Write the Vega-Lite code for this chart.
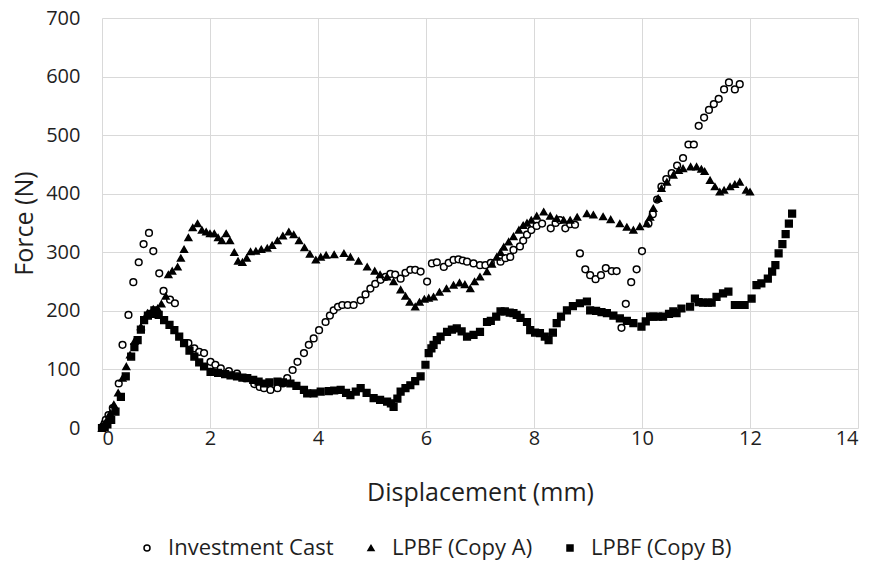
{
  "$schema": "https://vega.github.io/schema/vega-lite/v6.json",
  "width": 756,
  "height": 410,
  "autosize": {"type": "none"},
  "padding": {"left": 102, "top": 18, "right": 12, "bottom": 137},
  "background": "white",
  "config": {
    "view": {"stroke": null},
    "font": "Open Sans",
    "axis": {"gridColor": "#d9d9d9", "gridWidth": 1, "domain": false, "ticks": false, "labelColor": "#1f1f1f", "titleColor": "#1f1f1f", "labelFont": "Open Sans", "titleFont": "Open Sans", "titleFontWeight": "normal"},
    "legend": {"title": null, "orient": "none", "direction": "horizontal", "legendX": 34, "legendY": 519, "labelFontSize": 22, "labelColor": "#1f1f1f", "labelFont": "Open Sans", "labelLimit": 400, "symbolSize": 36, "symbolStrokeWidth": 1.5, "columnPadding": 26, "labelOffset": 10}
  },
  "data": {"values": [
    {"series":"Investment Cast","x":0,"y":0},{"series":"Investment Cast","x":0.02,"y":3},{"series":"Investment Cast","x":0.05,"y":8},{"series":"Investment Cast","x":0.07,"y":14},{"series":"Investment Cast","x":0.12,"y":22},{"series":"Investment Cast","x":0.2,"y":34},{"series":"Investment Cast","x":0.31,"y":76},{"series":"Investment Cast","x":0.38,"y":142},{"series":"Investment Cast","x":0.49,"y":193},{"series":"Investment Cast","x":0.58,"y":249},{"series":"Investment Cast","x":0.68,"y":283},{"series":"Investment Cast","x":0.77,"y":314},{"series":"Investment Cast","x":0.87,"y":333},{"series":"Investment Cast","x":0.95,"y":302},{"series":"Investment Cast","x":1.06,"y":264},{"series":"Investment Cast","x":1.14,"y":234},{"series":"Investment Cast","x":1.26,"y":219},{"series":"Investment Cast","x":1.35,"y":213},{"series":"Investment Cast","x":1.6,"y":145},{"series":"Investment Cast","x":1.71,"y":136},{"series":"Investment Cast","x":1.8,"y":130},{"series":"Investment Cast","x":1.89,"y":128},{"series":"Investment Cast","x":2.01,"y":113},{"series":"Investment Cast","x":2.1,"y":108},{"series":"Investment Cast","x":2.2,"y":102},{"series":"Investment Cast","x":2.35,"y":97},{"series":"Investment Cast","x":2.5,"y":93},{"series":"Investment Cast","x":2.65,"y":85},{"series":"Investment Cast","x":2.82,"y":75},{"series":"Investment Cast","x":2.92,"y":70},{"series":"Investment Cast","x":3.0,"y":68},{"series":"Investment Cast","x":3.12,"y":65},{"series":"Investment Cast","x":3.25,"y":68},{"series":"Investment Cast","x":3.35,"y":76},{"series":"Investment Cast","x":3.43,"y":85},{"series":"Investment Cast","x":3.53,"y":99},{"series":"Investment Cast","x":3.62,"y":113},{"series":"Investment Cast","x":3.74,"y":128},{"series":"Investment Cast","x":3.83,"y":142},{"series":"Investment Cast","x":3.92,"y":153},{"series":"Investment Cast","x":4.02,"y":167},{"series":"Investment Cast","x":4.14,"y":181},{"series":"Investment Cast","x":4.22,"y":192},{"series":"Investment Cast","x":4.29,"y":201},{"series":"Investment Cast","x":4.37,"y":207},{"series":"Investment Cast","x":4.45,"y":210},{"series":"Investment Cast","x":4.55,"y":210},{"series":"Investment Cast","x":4.66,"y":210},{"series":"Investment Cast","x":4.79,"y":218},{"series":"Investment Cast","x":4.88,"y":228},{"series":"Investment Cast","x":4.97,"y":238},{"series":"Investment Cast","x":5.06,"y":246},{"series":"Investment Cast","x":5.16,"y":253},{"series":"Investment Cast","x":5.25,"y":258},{"series":"Investment Cast","x":5.34,"y":263},{"series":"Investment Cast","x":5.43,"y":262},{"series":"Investment Cast","x":5.53,"y":255},{"series":"Investment Cast","x":5.62,"y":265},{"series":"Investment Cast","x":5.71,"y":270},{"series":"Investment Cast","x":5.8,"y":270},{"series":"Investment Cast","x":5.9,"y":267},{"series":"Investment Cast","x":6.02,"y":250},{"series":"Investment Cast","x":6.11,"y":281},{"series":"Investment Cast","x":6.2,"y":283},{"series":"Investment Cast","x":6.33,"y":275},{"series":"Investment Cast","x":6.42,"y":282},{"series":"Investment Cast","x":6.51,"y":287},{"series":"Investment Cast","x":6.6,"y":288},{"series":"Investment Cast","x":6.68,"y":286},{"series":"Investment Cast","x":6.76,"y":284},{"series":"Investment Cast","x":6.88,"y":281},{"series":"Investment Cast","x":7.0,"y":278},{"series":"Investment Cast","x":7.1,"y":278},{"series":"Investment Cast","x":7.2,"y":282},{"series":"Investment Cast","x":7.38,"y":284},{"series":"Investment Cast","x":7.47,"y":290},{"series":"Investment Cast","x":7.56,"y":292},{"series":"Investment Cast","x":7.62,"y":304},{"series":"Investment Cast","x":7.74,"y":310},{"series":"Investment Cast","x":7.8,"y":320},{"series":"Investment Cast","x":7.87,"y":330},{"series":"Investment Cast","x":7.95,"y":338},{"series":"Investment Cast","x":8.05,"y":345},{"series":"Investment Cast","x":8.15,"y":349},{"series":"Investment Cast","x":8.31,"y":341},{"series":"Investment Cast","x":8.4,"y":350},{"series":"Investment Cast","x":8.48,"y":355},{"series":"Investment Cast","x":8.58,"y":341},{"series":"Investment Cast","x":8.67,"y":348},{"series":"Investment Cast","x":8.76,"y":347},{"series":"Investment Cast","x":8.85,"y":298},{"series":"Investment Cast","x":8.95,"y":271},{"series":"Investment Cast","x":9.04,"y":261},{"series":"Investment Cast","x":9.14,"y":254},{"series":"Investment Cast","x":9.24,"y":261},{"series":"Investment Cast","x":9.33,"y":273},{"series":"Investment Cast","x":9.44,"y":268},{"series":"Investment Cast","x":9.53,"y":268},{"series":"Investment Cast","x":9.62,"y":171},{"series":"Investment Cast","x":9.7,"y":212},{"series":"Investment Cast","x":9.8,"y":249},{"series":"Investment Cast","x":9.9,"y":271},{"series":"Investment Cast","x":10.0,"y":302},{"series":"Investment Cast","x":10.12,"y":349},{"series":"Investment Cast","x":10.2,"y":365},{"series":"Investment Cast","x":10.28,"y":390},{"series":"Investment Cast","x":10.36,"y":412},{"series":"Investment Cast","x":10.45,"y":425},{"series":"Investment Cast","x":10.55,"y":435},{"series":"Investment Cast","x":10.65,"y":448},{"series":"Investment Cast","x":10.76,"y":461},{"series":"Investment Cast","x":10.86,"y":484},{"series":"Investment Cast","x":10.96,"y":484},{"series":"Investment Cast","x":11.05,"y":516},{"series":"Investment Cast","x":11.15,"y":530},{"series":"Investment Cast","x":11.24,"y":543},{"series":"Investment Cast","x":11.33,"y":553},{"series":"Investment Cast","x":11.42,"y":562},{"series":"Investment Cast","x":11.52,"y":578},{"series":"Investment Cast","x":11.61,"y":590},{"series":"Investment Cast","x":11.72,"y":578},{"series":"Investment Cast","x":11.81,"y":587},
    {"series":"LPBF (Copy A)","x":0,"y":0},{"series":"LPBF (Copy A)","x":0.03,"y":5},{"series":"LPBF (Copy A)","x":0.08,"y":12},{"series":"LPBF (Copy A)","x":0.15,"y":25},{"series":"LPBF (Copy A)","x":0.22,"y":40},{"series":"LPBF (Copy A)","x":0.3,"y":60},{"series":"LPBF (Copy A)","x":0.38,"y":85},{"series":"LPBF (Copy A)","x":0.45,"y":105},{"series":"LPBF (Copy A)","x":0.52,"y":125},{"series":"LPBF (Copy A)","x":0.6,"y":148},{"series":"LPBF (Copy A)","x":0.72,"y":173},{"series":"LPBF (Copy A)","x":0.84,"y":196},{"series":"LPBF (Copy A)","x":0.95,"y":203},{"series":"LPBF (Copy A)","x":1.03,"y":204},{"series":"LPBF (Copy A)","x":1.1,"y":212},{"series":"LPBF (Copy A)","x":1.18,"y":225},{"series":"LPBF (Copy A)","x":1.23,"y":262},{"series":"LPBF (Copy A)","x":1.3,"y":268},{"series":"LPBF (Copy A)","x":1.4,"y":275},{"series":"LPBF (Copy A)","x":1.46,"y":290},{"series":"LPBF (Copy A)","x":1.52,"y":305},{"series":"LPBF (Copy A)","x":1.6,"y":325},{"series":"LPBF (Copy A)","x":1.68,"y":342},{"series":"LPBF (Copy A)","x":1.77,"y":349},{"series":"LPBF (Copy A)","x":1.85,"y":338},{"series":"LPBF (Copy A)","x":1.93,"y":335},{"series":"LPBF (Copy A)","x":2.0,"y":332},{"series":"LPBF (Copy A)","x":2.08,"y":332},{"series":"LPBF (Copy A)","x":2.15,"y":325},{"series":"LPBF (Copy A)","x":2.22,"y":320},{"series":"LPBF (Copy A)","x":2.3,"y":332},{"series":"LPBF (Copy A)","x":2.37,"y":320},{"series":"LPBF (Copy A)","x":2.45,"y":300},{"series":"LPBF (Copy A)","x":2.52,"y":285},{"series":"LPBF (Copy A)","x":2.6,"y":283},{"series":"LPBF (Copy A)","x":2.68,"y":290},{"series":"LPBF (Copy A)","x":2.75,"y":301},{"series":"LPBF (Copy A)","x":2.85,"y":302},{"series":"LPBF (Copy A)","x":2.95,"y":305},{"series":"LPBF (Copy A)","x":3.06,"y":307},{"series":"LPBF (Copy A)","x":3.15,"y":312},{"series":"LPBF (Copy A)","x":3.25,"y":320},{"series":"LPBF (Copy A)","x":3.35,"y":328},{"series":"LPBF (Copy A)","x":3.46,"y":335},{"series":"LPBF (Copy A)","x":3.55,"y":330},{"series":"LPBF (Copy A)","x":3.65,"y":320},{"series":"LPBF (Copy A)","x":3.75,"y":308},{"series":"LPBF (Copy A)","x":3.85,"y":297},{"series":"LPBF (Copy A)","x":3.96,"y":287},{"series":"LPBF (Copy A)","x":4.05,"y":292},{"series":"LPBF (Copy A)","x":4.15,"y":295},{"series":"LPBF (Copy A)","x":4.3,"y":296},{"series":"LPBF (Copy A)","x":4.48,"y":298},{"series":"LPBF (Copy A)","x":4.6,"y":292},{"series":"LPBF (Copy A)","x":4.75,"y":285},{"series":"LPBF (Copy A)","x":4.91,"y":275},{"series":"LPBF (Copy A)","x":5.05,"y":268},{"series":"LPBF (Copy A)","x":5.15,"y":262},{"series":"LPBF (Copy A)","x":5.28,"y":258},{"series":"LPBF (Copy A)","x":5.4,"y":250},{"series":"LPBF (Copy A)","x":5.53,"y":236},{"series":"LPBF (Copy A)","x":5.62,"y":225},{"series":"LPBF (Copy A)","x":5.7,"y":215},{"series":"LPBF (Copy A)","x":5.8,"y":207},{"series":"LPBF (Copy A)","x":5.88,"y":215},{"series":"LPBF (Copy A)","x":5.97,"y":220},{"series":"LPBF (Copy A)","x":6.05,"y":222},{"series":"LPBF (Copy A)","x":6.14,"y":224},{"series":"LPBF (Copy A)","x":6.25,"y":232},{"series":"LPBF (Copy A)","x":6.38,"y":238},{"series":"LPBF (Copy A)","x":6.51,"y":244},{"series":"LPBF (Copy A)","x":6.62,"y":248},{"series":"LPBF (Copy A)","x":6.72,"y":245},{"series":"LPBF (Copy A)","x":6.82,"y":238},{"series":"LPBF (Copy A)","x":6.9,"y":250},{"series":"LPBF (Copy A)","x":7.0,"y":258},{"series":"LPBF (Copy A)","x":7.13,"y":267},{"series":"LPBF (Copy A)","x":7.22,"y":280},{"series":"LPBF (Copy A)","x":7.31,"y":292},{"series":"LPBF (Copy A)","x":7.38,"y":300},{"series":"LPBF (Copy A)","x":7.44,"y":309},{"series":"LPBF (Copy A)","x":7.53,"y":318},{"series":"LPBF (Copy A)","x":7.62,"y":327},{"series":"LPBF (Copy A)","x":7.72,"y":338},{"series":"LPBF (Copy A)","x":7.8,"y":346},{"series":"LPBF (Copy A)","x":7.87,"y":350},{"series":"LPBF (Copy A)","x":7.95,"y":355},{"series":"LPBF (Copy A)","x":8.05,"y":362},{"series":"LPBF (Copy A)","x":8.18,"y":369},{"series":"LPBF (Copy A)","x":8.3,"y":362},{"series":"LPBF (Copy A)","x":8.42,"y":358},{"series":"LPBF (Copy A)","x":8.55,"y":355},{"series":"LPBF (Copy A)","x":8.67,"y":355},{"series":"LPBF (Copy A)","x":8.8,"y":360},{"series":"LPBF (Copy A)","x":8.98,"y":366},{"series":"LPBF (Copy A)","x":9.1,"y":364},{"series":"LPBF (Copy A)","x":9.28,"y":361},{"series":"LPBF (Copy A)","x":9.42,"y":356},{"series":"LPBF (Copy A)","x":9.59,"y":349},{"series":"LPBF (Copy A)","x":9.72,"y":343},{"series":"LPBF (Copy A)","x":9.84,"y":338},{"series":"LPBF (Copy A)","x":9.96,"y":344},{"series":"LPBF (Copy A)","x":10.09,"y":349},{"series":"LPBF (Copy A)","x":10.15,"y":360},{"series":"LPBF (Copy A)","x":10.21,"y":375},{"series":"LPBF (Copy A)","x":10.3,"y":392},{"series":"LPBF (Copy A)","x":10.36,"y":409},{"series":"LPBF (Copy A)","x":10.46,"y":420},{"series":"LPBF (Copy A)","x":10.58,"y":432},{"series":"LPBF (Copy A)","x":10.68,"y":440},{"series":"LPBF (Copy A)","x":10.76,"y":443},{"series":"LPBF (Copy A)","x":10.9,"y":446},{"series":"LPBF (Copy A)","x":11.01,"y":446},{"series":"LPBF (Copy A)","x":11.1,"y":442},{"series":"LPBF (Copy A)","x":11.16,"y":438},{"series":"LPBF (Copy A)","x":11.26,"y":423},{"series":"LPBF (Copy A)","x":11.35,"y":412},{"series":"LPBF (Copy A)","x":11.44,"y":403},{"series":"LPBF (Copy A)","x":11.52,"y":406},{"series":"LPBF (Copy A)","x":11.63,"y":412},{"series":"LPBF (Copy A)","x":11.72,"y":416},{"series":"LPBF (Copy A)","x":11.81,"y":420},{"series":"LPBF (Copy A)","x":11.93,"y":406},{"series":"LPBF (Copy A)","x":12.0,"y":403},
    {"series":"LPBF (Copy B)","x":0,"y":0},{"series":"LPBF (Copy B)","x":0.05,"y":2},{"series":"LPBF (Copy B)","x":0.1,"y":6},{"series":"LPBF (Copy B)","x":0.17,"y":14},{"series":"LPBF (Copy B)","x":0.25,"y":28},{"series":"LPBF (Copy B)","x":0.35,"y":53},{"series":"LPBF (Copy B)","x":0.44,"y":88},{"series":"LPBF (Copy B)","x":0.54,"y":122},{"series":"LPBF (Copy B)","x":0.6,"y":138},{"series":"LPBF (Copy B)","x":0.66,"y":150},{"series":"LPBF (Copy B)","x":0.72,"y":168},{"series":"LPBF (Copy B)","x":0.78,"y":184},{"series":"LPBF (Copy B)","x":0.85,"y":192},{"series":"LPBF (Copy B)","x":0.91,"y":195},{"series":"LPBF (Copy B)","x":0.97,"y":201},{"series":"LPBF (Copy B)","x":1.05,"y":193},{"series":"LPBF (Copy B)","x":1.15,"y":184},{"series":"LPBF (Copy B)","x":1.25,"y":176},{"series":"LPBF (Copy B)","x":1.34,"y":167},{"series":"LPBF (Copy B)","x":1.43,"y":156},{"series":"LPBF (Copy B)","x":1.52,"y":145},{"series":"LPBF (Copy B)","x":1.62,"y":132},{"series":"LPBF (Copy B)","x":1.71,"y":122},{"series":"LPBF (Copy B)","x":1.8,"y":112},{"series":"LPBF (Copy B)","x":1.89,"y":105},{"series":"LPBF (Copy B)","x":2.01,"y":96},{"series":"LPBF (Copy B)","x":2.15,"y":94},{"series":"LPBF (Copy B)","x":2.28,"y":92},{"series":"LPBF (Copy B)","x":2.38,"y":90},{"series":"LPBF (Copy B)","x":2.5,"y":88},{"series":"LPBF (Copy B)","x":2.6,"y":86},{"series":"LPBF (Copy B)","x":2.69,"y":85},{"series":"LPBF (Copy B)","x":2.8,"y":82},{"series":"LPBF (Copy B)","x":2.9,"y":79},{"series":"LPBF (Copy B)","x":3.0,"y":76},{"series":"LPBF (Copy B)","x":3.1,"y":78},{"series":"LPBF (Copy B)","x":3.25,"y":79},{"series":"LPBF (Copy B)","x":3.35,"y":78},{"series":"LPBF (Copy B)","x":3.49,"y":76},{"series":"LPBF (Copy B)","x":3.6,"y":72},{"series":"LPBF (Copy B)","x":3.74,"y":65},{"series":"LPBF (Copy B)","x":3.8,"y":59},{"series":"LPBF (Copy B)","x":3.92,"y":59},{"series":"LPBF (Copy B)","x":4.05,"y":62},{"series":"LPBF (Copy B)","x":4.2,"y":63},{"series":"LPBF (Copy B)","x":4.3,"y":64},{"series":"LPBF (Copy B)","x":4.42,"y":65},{"series":"LPBF (Copy B)","x":4.52,"y":60},{"series":"LPBF (Copy B)","x":4.6,"y":56},{"series":"LPBF (Copy B)","x":4.7,"y":62},{"series":"LPBF (Copy B)","x":4.79,"y":68},{"series":"LPBF (Copy B)","x":4.9,"y":60},{"series":"LPBF (Copy B)","x":5.03,"y":51},{"series":"LPBF (Copy B)","x":5.15,"y":48},{"series":"LPBF (Copy B)","x":5.28,"y":45},{"series":"LPBF (Copy B)","x":5.35,"y":42},{"series":"LPBF (Copy B)","x":5.4,"y":36},{"series":"LPBF (Copy B)","x":5.47,"y":50},{"series":"LPBF (Copy B)","x":5.53,"y":62},{"series":"LPBF (Copy B)","x":5.62,"y":68},{"series":"LPBF (Copy B)","x":5.71,"y":73},{"series":"LPBF (Copy B)","x":5.8,"y":80},{"series":"LPBF (Copy B)","x":5.9,"y":88},{"series":"LPBF (Copy B)","x":5.99,"y":108},{"series":"LPBF (Copy B)","x":6.05,"y":128},{"series":"LPBF (Copy B)","x":6.1,"y":136},{"series":"LPBF (Copy B)","x":6.14,"y":142},{"series":"LPBF (Copy B)","x":6.2,"y":150},{"series":"LPBF (Copy B)","x":6.27,"y":156},{"series":"LPBF (Copy B)","x":6.39,"y":164},{"series":"LPBF (Copy B)","x":6.48,"y":168},{"series":"LPBF (Copy B)","x":6.57,"y":170},{"series":"LPBF (Copy B)","x":6.66,"y":165},{"series":"LPBF (Copy B)","x":6.76,"y":156},{"series":"LPBF (Copy B)","x":6.88,"y":159},{"series":"LPBF (Copy B)","x":7.0,"y":164},{"series":"LPBF (Copy B)","x":7.13,"y":181},{"series":"LPBF (Copy B)","x":7.2,"y":183},{"series":"LPBF (Copy B)","x":7.3,"y":190},{"series":"LPBF (Copy B)","x":7.38,"y":199},{"series":"LPBF (Copy B)","x":7.46,"y":199},{"series":"LPBF (Copy B)","x":7.55,"y":197},{"series":"LPBF (Copy B)","x":7.62,"y":196},{"series":"LPBF (Copy B)","x":7.68,"y":193},{"series":"LPBF (Copy B)","x":7.75,"y":188},{"series":"LPBF (Copy B)","x":7.87,"y":181},{"series":"LPBF (Copy B)","x":7.93,"y":167},{"series":"LPBF (Copy B)","x":8.02,"y":163},{"series":"LPBF (Copy B)","x":8.11,"y":162},{"series":"LPBF (Copy B)","x":8.2,"y":156},{"series":"LPBF (Copy B)","x":8.27,"y":150},{"series":"LPBF (Copy B)","x":8.35,"y":163},{"series":"LPBF (Copy B)","x":8.42,"y":179},{"series":"LPBF (Copy B)","x":8.5,"y":190},{"series":"LPBF (Copy B)","x":8.61,"y":201},{"series":"LPBF (Copy B)","x":8.72,"y":208},{"series":"LPBF (Copy B)","x":8.85,"y":213},{"series":"LPBF (Copy B)","x":8.98,"y":216},{"series":"LPBF (Copy B)","x":9.04,"y":201},{"series":"LPBF (Copy B)","x":9.15,"y":200},{"series":"LPBF (Copy B)","x":9.25,"y":198},{"series":"LPBF (Copy B)","x":9.35,"y":196},{"series":"LPBF (Copy B)","x":9.47,"y":192},{"series":"LPBF (Copy B)","x":9.59,"y":187},{"series":"LPBF (Copy B)","x":9.72,"y":183},{"series":"LPBF (Copy B)","x":9.84,"y":179},{"series":"LPBF (Copy B)","x":9.99,"y":173},{"series":"LPBF (Copy B)","x":10.07,"y":182},{"series":"LPBF (Copy B)","x":10.15,"y":190},{"series":"LPBF (Copy B)","x":10.21,"y":190},{"series":"LPBF (Copy B)","x":10.3,"y":190},{"series":"LPBF (Copy B)","x":10.39,"y":190},{"series":"LPBF (Copy B)","x":10.5,"y":195},{"series":"LPBF (Copy B)","x":10.58,"y":199},{"series":"LPBF (Copy B)","x":10.64,"y":196},{"series":"LPBF (Copy B)","x":10.73,"y":204},{"series":"LPBF (Copy B)","x":10.89,"y":207},{"series":"LPBF (Copy B)","x":10.98,"y":221},{"series":"LPBF (Copy B)","x":11.05,"y":215},{"series":"LPBF (Copy B)","x":11.13,"y":214},{"series":"LPBF (Copy B)","x":11.22,"y":214},{"series":"LPBF (Copy B)","x":11.29,"y":214},{"series":"LPBF (Copy B)","x":11.38,"y":224},{"series":"LPBF (Copy B)","x":11.5,"y":230},{"series":"LPBF (Copy B)","x":11.6,"y":233},{"series":"LPBF (Copy B)","x":11.72,"y":210},{"series":"LPBF (Copy B)","x":11.82,"y":210},{"series":"LPBF (Copy B)","x":11.9,"y":210},{"series":"LPBF (Copy B)","x":12.03,"y":221},{"series":"LPBF (Copy B)","x":12.12,"y":244},{"series":"LPBF (Copy B)","x":12.21,"y":247},{"series":"LPBF (Copy B)","x":12.33,"y":255},{"series":"LPBF (Copy B)","x":12.41,"y":267},{"series":"LPBF (Copy B)","x":12.47,"y":278},{"series":"LPBF (Copy B)","x":12.53,"y":298},{"series":"LPBF (Copy B)","x":12.6,"y":314},{"series":"LPBF (Copy B)","x":12.66,"y":331},{"series":"LPBF (Copy B)","x":12.72,"y":349},{"series":"LPBF (Copy B)","x":12.78,"y":366}
  ]},
  "mark": {"type": "point", "filled": true, "strokeWidth": 1.5, "opacity": 1},
  "encoding": {
    "x": {"field": "x", "type": "quantitative", "scale": {"domain": [0, 14], "nice": false, "zero": true},
      "axis": {"values": [0,2,4,6,8,10,12,14], "title": "Displacement (mm)", "labelFontSize": 20, "titleFontSize": 25, "labelPadding": 0, "titlePadding": 32}},
    "y": {"field": "y", "type": "quantitative", "scale": {"domain": [0, 700], "nice": false},
      "axis": {"values": [0,100,200,300,400,500,600,700], "title": "Force (N)", "labelFontSize": 20, "titleFontSize": 25, "labelPadding": 22, "titlePadding": 8}},
    "shape": {"field": "series", "type": "nominal",
      "scale": {"domain": ["Investment Cast", "LPBF (Copy A)", "LPBF (Copy B)"], "range": ["circle", "triangle-up", "square"]}},
    "fill": {"field": "series", "type": "nominal",
      "scale": {"domain": ["Investment Cast", "LPBF (Copy A)", "LPBF (Copy B)"], "range": ["white", "black", "black"]}},
    "stroke": {"field": "series", "type": "nominal",
      "scale": {"domain": ["Investment Cast", "LPBF (Copy A)", "LPBF (Copy B)"], "range": ["black", "black", "black"]}},
    "size": {"value": 45}
  }
}
